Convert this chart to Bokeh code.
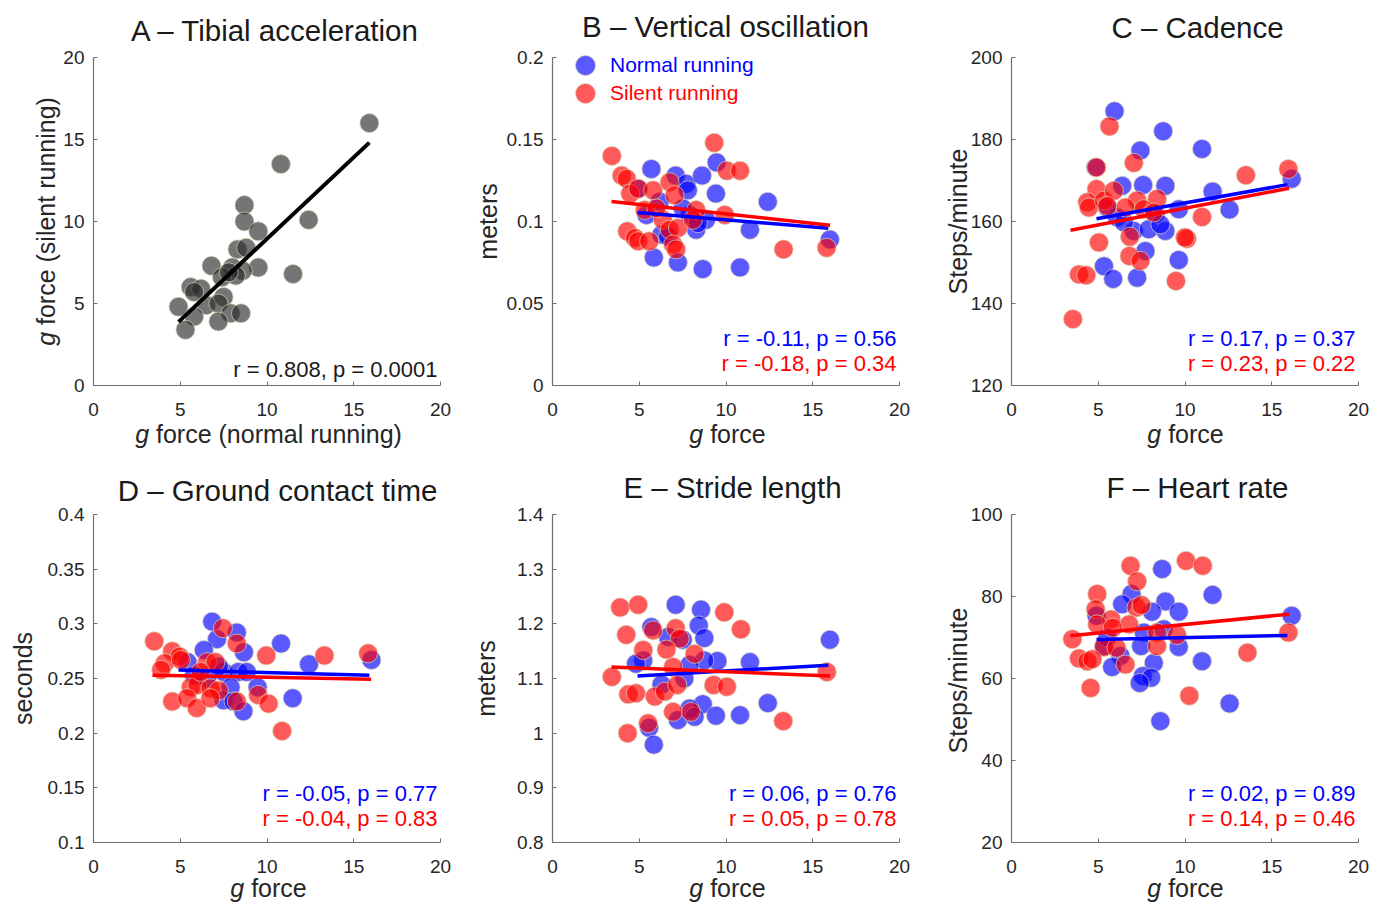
import math
from bokeh.plotting import figure
from bokeh.models import Range1d, FixedTicker, Label, Legend, LegendItem
from bokeh.layouts import column, row
from bokeh.embed import file_html
from bokeh.resources import INLINE

# ---------------- data ----------------
X_TICKS = [0, 5, 10, 15, 20]
X_TICK_LABELS = ["0", "5", "10", "15", "20"]

# A - tibial acceleration (g force): normal running (x) vs silent running (y)
A_normal_g = [15.9, 10.8, 8.7, 8.7, 9.5, 12.4, 11.5, 8.3, 8.8, 9.5, 6.8, 8.0, 8.6, 8.2,
              7.4, 7.8, 5.6, 6.2, 5.8, 4.9, 6.5, 7.5, 7.2, 5.8, 7.9, 8.5, 7.2, 5.3]
A_silent_g = [16.0, 13.5, 11.0, 10.0, 9.4, 10.1, 6.8, 8.3, 8.4, 7.2, 7.3, 7.2, 7.0, 6.7,
              6.6, 6.9, 6.0, 5.9, 5.7, 4.8, 4.9, 5.4, 5.0, 4.2, 4.4, 4.4, 3.9, 3.4]
A_fit = (0.9936, -0.988)

# B - vertical oscillation (m)
B_normal_x = [5.70, 7.10, 7.71, 7.80, 8.62, 9.46, 9.42, 12.41, 11.38, 15.99, 5.84, 7.23,
              8.66, 10.81, 8.28, 8.85, 5.42, 6.18, 6.28, 6.66, 4.94, 7.90, 7.51, 8.38]
B_normal_y = [0.132, 0.128, 0.123, 0.119, 0.128, 0.136, 0.117, 0.112, 0.095, 0.089, 0.078, 0.075,
              0.071, 0.072, 0.095, 0.101, 0.104, 0.112, 0.092, 0.091, 0.120, 0.104, 0.108, 0.099]
B_silent_x = [3.42, 3.99, 4.28, 4.48, 4.94, 5.80, 6.75, 7.04, 9.32, 10.05, 10.81, 8.28, 9.93, 4.31,
              4.75, 4.94, 5.57, 6.36, 6.75, 7.23, 6.95, 7.13, 13.32, 15.80, 5.32, 8.09, 5.99]
B_silent_y = [0.140, 0.128, 0.126, 0.117, 0.120, 0.119, 0.124, 0.116, 0.148, 0.131, 0.131, 0.107, 0.104, 0.094,
              0.090, 0.088, 0.088, 0.101, 0.095, 0.096, 0.086, 0.083, 0.083, 0.084, 0.107, 0.101, 0.108]
B_fit_normal = (-0.000876, 0.1098)
B_fit_silent = (-0.001147, 0.1161)

# C - cadence (steps/minute)
C_normal_x = [5.94, 8.74, 10.98, 7.43, 4.85, 6.38, 7.59, 8.87, 11.59, 16.15, 12.57, 9.64, 8.30,
              6.09, 7.05, 7.91, 8.87, 8.58, 7.72, 5.33, 5.86, 7.24, 9.64, 5.52, 6.48]
C_normal_y = [186.9, 182.0, 177.7, 177.3, 173.2, 168.7, 168.9, 168.7, 167.3, 170.4, 162.9, 163.0, 161.8,
              161.0, 157.7, 158.1, 157.7, 159.3, 152.8, 149.1, 146.0, 146.3, 150.6, 163.4, 159.8]
C_silent_x = [5.65, 7.05, 4.90, 15.96, 13.51, 4.90, 4.37, 4.46, 5.33, 5.90, 7.24, 8.39, 6.57, 7.62,
              8.20, 10.98, 6.82, 10.11, 10.00, 5.04, 6.80, 7.43, 3.89, 4.31, 9.48, 3.54, 5.52]
C_silent_y = [183.2, 174.3, 173.2, 172.8, 171.3, 167.9, 164.7, 163.4, 165.1, 167.5, 165.1, 165.5, 163.4, 163.0,
              162.2, 161.1, 156.3, 155.8, 156.1, 154.9, 151.6, 150.4, 147.1, 146.9, 145.5, 136.2, 163.8]
C_fit_normal = (0.754, 157.0)
C_fit_silent = (0.816, 155.07)

# D - ground contact time (s)
D_normal_x = [6.84, 7.12, 8.26, 8.67, 10.81, 12.42, 16.02, 6.36, 5.42, 7.50, 8.35, 8.83, 5.80,
              7.90, 9.46, 7.50, 8.07, 8.64, 11.48, 6.55, 7.22]
D_normal_y = [0.302, 0.286, 0.292, 0.274, 0.282, 0.263, 0.267, 0.276, 0.265, 0.256, 0.256, 0.256, 0.253,
              0.242, 0.242, 0.230, 0.229, 0.220, 0.232, 0.250, 0.261]
D_silent_x = [3.50, 4.54, 4.96, 4.11, 3.90, 5.04, 7.46, 8.26, 9.96, 13.31, 15.83, 6.55, 7.03,
              5.61, 5.98, 6.74, 7.22, 4.54, 5.39, 5.95, 6.74, 8.26, 9.49, 10.09, 10.87, 6.17]
D_silent_y = [0.284, 0.275, 0.270, 0.264, 0.258, 0.267, 0.296, 0.282, 0.271, 0.271, 0.273, 0.265, 0.265,
              0.242, 0.244, 0.241, 0.239, 0.229, 0.232, 0.223, 0.232, 0.229, 0.235, 0.227, 0.202, 0.256]
D_fit_normal = (-0.00043, 0.2598)
D_fit_silent = (-0.000292, 0.2540)

# E - stride length (m)
E_normal_x = [7.10, 8.56, 8.43, 8.75, 5.70, 6.66, 7.51, 15.99, 11.38, 9.51, 8.75, 7.90, 5.23,
              4.81, 7.60, 6.28, 8.66, 7.90, 7.23, 8.19, 9.42, 10.81, 12.41, 5.57, 5.84]
E_normal_y = [1.235, 1.226, 1.197, 1.174, 1.194, 1.176, 1.171, 1.171, 1.130, 1.132, 1.133, 1.125, 1.133,
              1.127, 1.100, 1.089, 1.053, 1.045, 1.024, 1.030, 1.032, 1.033, 1.055, 1.010, 0.979]
E_silent_x = [3.90, 4.94, 9.90, 10.86, 4.25, 5.80, 7.10, 7.33, 5.23, 6.57, 8.19, 6.95, 3.42,
              4.37, 4.81, 5.90, 6.47, 7.19, 9.29, 10.05, 15.81, 6.95, 7.98, 13.30, 5.51, 4.33]
E_silent_y = [1.230, 1.235, 1.221, 1.190, 1.180, 1.188, 1.192, 1.173, 1.152, 1.153, 1.145, 1.121, 1.103,
              1.071, 1.073, 1.067, 1.076, 1.088, 1.088, 1.085, 1.112, 1.039, 1.039, 1.022, 1.018, 1.000]
E_fit_normal = (0.00177, 1.0961)
E_fit_silent = (-0.001325, 1.1257)

# F - heart rate
F_normal_x = [8.68, 11.59, 6.92, 6.38, 8.87, 9.64, 8.10, 16.15, 4.90, 7.63, 8.77, 5.33, 7.47,
              9.64, 6.28, 10.98, 8.20, 5.80, 7.57, 8.05, 7.39, 12.57, 8.58, 5.52]
F_normal_y = [86.7, 80.4, 80.6, 78.1, 78.8, 76.3, 76.3, 75.3, 75.3, 71.2, 72.0, 67.9, 67.9,
              67.7, 65.5, 64.2, 63.8, 62.8, 60.6, 60.2, 58.9, 53.9, 49.6, 70.0]
F_silent_x = [10.06, 11.02, 6.86, 7.24, 4.94, 4.85, 7.20, 7.49, 5.75, 4.94, 6.78, 5.84, 15.96,
              3.51, 8.39, 9.54, 8.39, 5.33, 6.05, 3.89, 4.37, 4.66, 6.57, 13.60, 4.56, 10.25]
F_silent_y = [88.7, 87.5, 87.5, 83.7, 80.6, 76.9, 77.3, 77.9, 74.4, 73.2, 73.2, 72.4, 71.2,
              69.6, 71.2, 70.6, 67.9, 67.7, 67.5, 64.9, 64.2, 64.7, 63.4, 66.3, 57.7, 55.8]
F_fit_normal = (0.089, 69.10)
F_fit_silent = (0.416, 69.03)

# y axes
A_yticks = [0, 5, 10, 15, 20]
A_ylabels = ["0", "5", "10", "15", "20"]
B_yticks = [0, 0.05, 0.1, 0.15, 0.2]
B_ylabels = ["0", "0.05", "0.1", "0.15", "0.2"]
C_yticks = [120, 140, 160, 180, 200]
C_ylabels = ["120", "140", "160", "180", "200"]
D_yticks = [0.1, 0.15, 0.2, 0.25, 0.3, 0.35, 0.4]
D_ylabels = ["0.1", "0.15", "0.2", "0.25", "0.3", "0.35", "0.4"]
E_yticks = [0.8, 0.9, 1.0, 1.1, 1.2, 1.3, 1.4]
E_ylabels = ["0.8", "0.9", "1", "1.1", "1.2", "1.3", "1.4"]
F_yticks = [20, 40, 60, 80, 100]
F_ylabels = ["20", "40", "60", "80", "100"]

# statistics text
A_stat = "r = 0.808, p = 0.0001"
B_stats = ("r = -0.11, p = 0.56", "r = -0.18, p = 0.34")
C_stats = ("r = 0.17, p = 0.37", "r = 0.23, p = 0.22")
D_stats = ("r = -0.05, p = 0.77", "r = -0.04, p = 0.83")
E_stats = ("r = 0.06, p = 0.76", "r = 0.05, p = 0.78")
F_stats = ("r = 0.02, p = 0.89", "r = 0.14, p = 0.46")

# ---------------- styling ----------------
FONT = "Liberation Sans"
FW, FH = 347, 328          # size of each axes box in pixels
BLUE, RED = "#0000ff", "#ff0000"
AXC = "#707070"
TXT = "#262626"
EDGE = "#d9d2b4"

ARIAL = {' ': 278, 'a': 556, 'b': 556, 'c': 500, 'd': 556, 'e': 556, 'f': 278, 'g': 556,
         'h': 556, 'i': 222, 'l': 222, 'm': 833, 'n': 556, 'o': 556, 'p': 556, 'r': 333,
         's': 500, 't': 278, 'u': 556, '/': 278, '(': 333, ')': 333, 'S': 667, '-': 333}


def tw(s, size):
    return sum(ARIAL.get(ch, 556) for ch in s) * size / 1000.0


class Panel:
    def __init__(self, W, H, L, T, yr, yticks, ylabs):
        self.y0, self.y1 = yr
        self.sx = 20.0 / FW
        self.sy = (self.y1 - self.y0) / FH
        B = H - T - FH
        p = figure(width=W, height=H, frame_width=W, frame_height=H,
                   x_range=Range1d(-L * self.sx, (W - L) * self.sx),
                   y_range=Range1d(self.y0 - B * self.sy, self.y1 + T * self.sy),
                   output_backend="svg", toolbar_location=None,
                   min_border_left=0, min_border_right=0, min_border_top=0, min_border_bottom=0)
        p.title.visible = False
        p.outline_line_color = None
        p.xgrid.visible = False
        p.ygrid.visible = False
        p.xaxis.fixed_location = self.y0
        p.xaxis.bounds = (0, 20)
        p.yaxis.fixed_location = 0
        p.yaxis.bounds = (self.y0, self.y1)
        p.xaxis.ticker = FixedTicker(ticks=X_TICKS)
        p.xaxis.major_label_overrides = dict(zip(X_TICKS, X_TICK_LABELS))
        p.yaxis.ticker = FixedTicker(ticks=yticks)
        p.yaxis.major_label_overrides = dict(zip(yticks, ylabs))
        for ax in (p.xaxis[0], p.yaxis[0]):
            ax.axis_line_color = AXC
            ax.axis_line_width = 1.2
            ax.major_tick_in = 4
            ax.major_tick_out = 0
            ax.major_tick_line_color = AXC
            ax.minor_tick_line_color = None
            ax.major_label_text_font = FONT
            ax.major_label_text_font_size = "19px"
            ax.major_label_text_color = TXT
        p.xaxis.major_label_standoff = 17
        p.yaxis.major_label_standoff = 9
        self.p = p
        self.B = B

    # box-relative pixel offsets -> data coordinates
    def xd(self, px):
        return px * self.sx

    def yd(self, px):
        return self.y0 + px * self.sy

    def text(self, t, px, py, size, color=TXT, align="left", style="normal", angle=0.0):
        self.p.add_layout(Label(x=self.xd(px), y=self.yd(py), text=t, angle=angle,
                                text_font=FONT, text_font_style=style,
                                text_font_size=f"{size}px", text_color=color,
                                text_align=align, text_baseline="middle"))

    def title(self, t, cx, above):
        self.text(t, cx, FH + above, 29.5, color="#1a1a1a", align="center")

    def axis_title(self, parts, c_along, c_across, size, vertical=False):
        widths = [tw(t, size) for t, _ in parts]
        sp = tw(" ", size)
        total = sum(widths) + sp * (len(parts) - 1)
        pos = -total / 2
        for (t, st), w in zip(parts, widths):
            if vertical:
                self.text(t, c_across, c_along + pos, size, style=st, angle=math.pi / 2)
            else:
                self.text(t, c_along + pos, c_across, size, style=st)
            pos += w + sp

    def stats(self, texts, colors, ups):
        for t, c, u in zip(texts, colors, ups):
            self.text(t, FW - 3, u, 22, color=c, align="right")

    def pairs(self, nx, ny, sx, sy, fit_n, fit_s):
        p = self.p
        rn = p.scatter(nx, ny, size=19, fill_color=BLUE, fill_alpha=0.65,
                       line_color=EDGE, line_alpha=0.7, line_width=1)
        rs = p.scatter(sx, sy, size=19, fill_color=RED, fill_alpha=0.65,
                       line_color=EDGE, line_alpha=0.7, line_width=1)
        xs_n = [min(A_normal_g), max(A_normal_g)]
        xs_s = [min(A_silent_g), max(A_silent_g)]
        p.line(xs_n, [fit_n[0] * v + fit_n[1] for v in xs_n], line_color=BLUE, line_width=3.5)
        p.line(xs_s, [fit_s[0] * v + fit_s[1] for v in xs_s], line_color=RED, line_width=3.5)
        return rn, rs


G_FORCE = [("g", "italic"), ("force", "normal")]
ROW1_H, ROW2_H = 450, 453
COL_W = (460, 459, 461)

# ---------- A ----------
A = Panel(COL_W[0], ROW1_H, 93, 57, (0, 20), A_yticks, A_ylabels)
A.p.scatter(A_normal_g, A_silent_g, size=19, fill_color="#2b2b2b", fill_alpha=0.65,
            line_color=EDGE, line_alpha=0.7, line_width=1)
xa = [min(A_normal_g), max(A_normal_g)]
A.p.line(xa, [A_fit[0] * v + A_fit[1] for v in xa], line_color="black", line_width=4)
A.title("A \u2013 Tibial acceleration", 182, 27.5)
A.axis_title([("g", "italic"), ("force (normal running)", "normal")], 175, -48, 25)
A.axis_title([("g", "italic"), ("force (silent running)", "normal")], FH / 2, -48, 25, vertical=True)
A.stats([A_stat], ["#1a1a1a"], [16])

# ---------- B ----------
Bp = Panel(COL_W[1], ROW1_H, 92, 57, (0, 0.2), B_yticks, B_ylabels)
rnB, rsB = Bp.pairs(B_normal_x, B_normal_y, B_silent_x, B_silent_y, B_fit_normal, B_fit_silent)
Bp.title("B \u2013 Vertical oscillation", 173, 31.5)
Bp.axis_title(G_FORCE, 175, -48, 25)
Bp.axis_title([("meters", "normal")], FH / 2, -65, 25, vertical=True)
Bp.stats(B_stats, [BLUE, RED], [47, 22])
for rr, lab, col, top in ((rnB, "Normal running", BLUE, 8), (rsB, "Silent running", RED, 35.7)):
    lg = Legend(items=[LegendItem(label=lab, renderers=[rr])],
                location=(92 + 33 - 25, Bp.B + FH - top - 25),
                glyph_width=50, glyph_height=50, label_standoff=0, padding=0, margin=0,
                spacing=0, border_line_color=None, background_fill_alpha=0,
                label_text_font=FONT, label_text_font_size="21px", label_text_color=col)
    Bp.p.add_layout(lg)

# ---------- C ----------
C = Panel(COL_W[2], ROW1_H, 92, 57, (120, 200), C_yticks, C_ylabels)
C.pairs(C_normal_x, C_normal_y, C_silent_x, C_silent_y, C_fit_normal, C_fit_silent)
C.title("C \u2013 Cadence", 186, 30)
C.axis_title(G_FORCE, 174, -48, 25)
C.axis_title([("Steps/minute", "normal")], FH / 2, -54, 25, vertical=True)
C.stats(C_stats, [BLUE, RED], [47, 22])

# ---------- D ----------
D = Panel(COL_W[0], ROW2_H, 93, 64, (0.1, 0.4), D_yticks, D_ylabels)
D.pairs(D_normal_x, D_normal_y, D_silent_x, D_silent_y, D_fit_normal, D_fit_silent)
D.title("D \u2013 Ground contact time", 184, 24)
D.axis_title(G_FORCE, 175, -45, 25)
D.axis_title([("seconds", "normal")], FH / 2, -71, 25, vertical=True)
D.stats(D_stats, [BLUE, RED], [49, 24])

# ---------- E ----------
E = Panel(COL_W[1], ROW2_H, 92, 64, (0.8, 1.4), E_yticks, E_ylabels)
E.pairs(E_normal_x, E_normal_y, E_silent_x, E_silent_y, E_fit_normal, E_fit_silent)
E.title("E \u2013 Stride length", 180, 27)
E.axis_title(G_FORCE, 175, -45, 25)
E.axis_title([("meters", "normal")], FH / 2, -67, 25, vertical=True)
E.stats(E_stats, [BLUE, RED], [49, 24])

# ---------- F ----------
F = Panel(COL_W[2], ROW2_H, 92, 64, (20, 100), F_yticks, F_ylabels)
F.pairs(F_normal_x, F_normal_y, F_silent_x, F_silent_y, F_fit_normal, F_fit_silent)
F.title("F \u2013 Heart rate", 186, 27)
F.axis_title(G_FORCE, 174, -45, 25)
F.axis_title([("Steps/minute", "normal")], FH / 2 - 2, -54, 25, vertical=True)
F.stats(F_stats, [BLUE, RED], [49, 24])

layout = column(row(A.p, Bp.p, C.p), row(D.p, E.p, F.p))
open("out.html", "w").write(file_html(layout, INLINE))
